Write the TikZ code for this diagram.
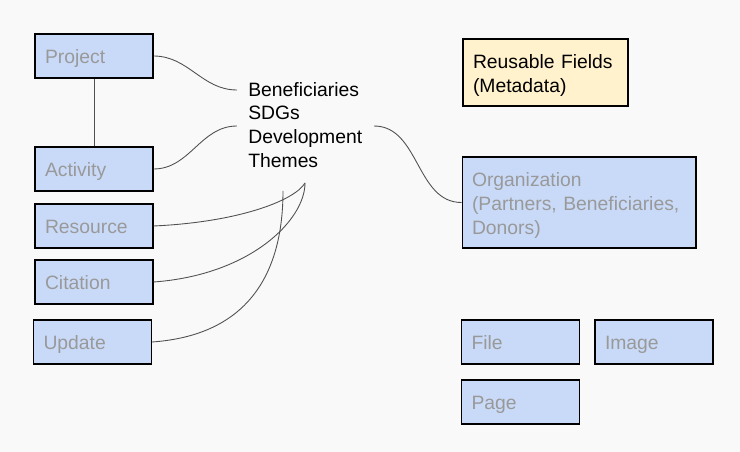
\documentclass[tikz,border=0pt]{standalone}
\usepackage{fontspec}
\setmainfont{Liberation Sans}
\usepackage{xcolor}
\definecolor{boxBlue}{RGB}{201,218,248}
\definecolor{boxCream}{RGB}{255,242,204}
\definecolor{labelGray}{RGB}{153,153,153}
\definecolor{linkGray}{RGB}{80,80,80}
\definecolor{pageBg}{RGB}{249,249,249}
\usepackage{tikz}
\usetikzlibrary{positioning,calc}
\tikzstyle{entity}=[rectangle, draw=black, line width=0.6pt, fill=boxBlue, font=\fontsize{11}{13.6}\selectfont, text=labelGray, align=left, inner xsep=0.2cm, inner ysep=0pt]
\tikzstyle{smallentity}=[entity, text width=1.96cm, minimum height=0.88cm, text height=0.87em, text depth=0pt]
\tikzstyle{tallentity}=[entity, execute at begin node={\rule{0pt}{11.5pt}}]
\tikzstyle{metabox}=[tallentity, fill=boxCream, text=black, text width=2.9cm, minimum height=1.34cm]
\tikzstyle{linkline}=[draw=linkGray, line width=0.5pt]

\begin{document}
\begin{tikzpicture}[x=0.02cm, y=-0.02cm]
        \fill[pageBg] (0,0) rectangle (740,452);
        \useasboundingbox (0,0) rectangle (740,452);

        % Left column
        \node[smallentity] (project) at (94,56) {Project};
        \node[smallentity] (activity) at (94,169) {Activity};
        \node[smallentity] (resource) at (94,226) {Resource};
        \node[smallentity] (citation) at (94,282) {Citation};
        \node[smallentity] (update) at (92.5,342) {Update};

        % Shared fields
        \node[anchor=west, inner sep=0pt, align=left, font=\fontsize{11}{13.6}\selectfont] (tags) at (248,125)
             {Beneficiaries\\SDGs\\Development\\Themes};
        \coordinate (tagsA) at (237,90);
        \coordinate (tagsB) at (237,126);
        \coordinate (tagsC) at (374,126);
        \coordinate (tagsD) at (305,183);
        \coordinate (tagsE) at (283,191);

        % Right column
        \node[metabox] (reusable) at (545.5,72.5) {Reusable Fields\\(Metadata)};
        \node[tallentity, text width=4.28cm, minimum height=1.82cm] (organization) at (579,202.5)
             {Organization\\(Partners, Beneficiaries,\\Donors)};
        \node[smallentity] (file) at (520.5,342) {File};
        \node[smallentity] (image) at (654,342) {Image};
        \node[smallentity] (page) at (520.5,402) {Page};

        \draw[linkline] (project) -- (activity);
        \draw[linkline] (project.east) to[out=0, in=180] (tagsA);
        \draw[linkline] (activity.east) to[out=0, in=180] (tagsB);
        \draw[linkline] (tagsC) to[out=0, in=180] (organization.west);
        \draw[linkline] (resource.east) .. controls +(87,-4) and +(-10,17) .. (tagsD);
        \draw[linkline] (citation.east) .. controls +(97,-7) and +(0,37) .. (tagsD);
        \draw[linkline] (update.east) .. controls +(99,-7) and +(0,79) .. (tagsE);
      \end{tikzpicture}
\end{document}
